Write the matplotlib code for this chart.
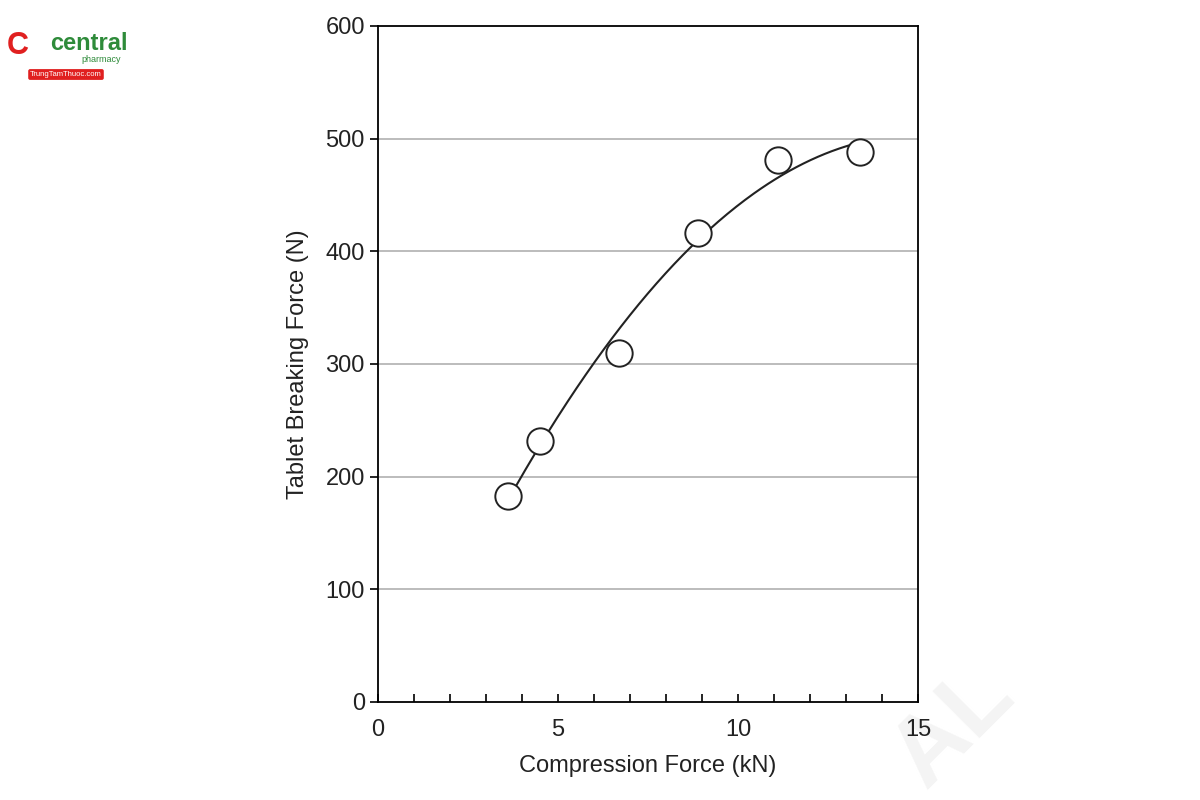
import numpy as np
import matplotlib.pyplot as plt
from matplotlib.ticker import MultipleLocator

plt.rcParams['font.family'] = ['Liberation Sans', 'DejaVu Sans']

compression = [3.6, 4.5, 6.7, 8.9, 11.1, 13.4]
breaking = [183, 232, 310, 416, 481, 488]

fig = plt.figure(figsize=(12, 8), dpi=100)
ax = fig.add_axes([0.315, 0.1225, 0.45, 0.845])
for y in range(100, 600, 100):
    ax.axhline(y, color='#b0b0b0', lw=1.2, zorder=0)
coef = np.polyfit(compression, breaking, 2)
xs = np.linspace(3.5, 13.3, 200)
ax.plot(xs, np.polyval(coef, xs), color='#222222', lw=1.5, zorder=2)
ax.scatter(compression, breaking, s=360, facecolors='white', edgecolors='#222222', linewidths=1.4, zorder=3)
ax.set_xlim(0, 15)
ax.set_ylim(0, 600)
ax.set_xticks([0, 5, 10, 15])
ax.xaxis.set_minor_locator(MultipleLocator(1))
ax.set_yticks(range(0, 700, 100))
ax.tick_params(axis='x', which='both', direction='in', length=6, labelsize=17, pad=12, width=1.2, labelcolor='#222222')
ax.tick_params(axis='y', direction='out', length=6, labelsize=17, width=1.2, labelcolor='#222222')
for s in ax.spines.values():
    s.set_linewidth(1.3)
ax.set_xlabel('Compression Force (kN)', fontsize=17, color='#222222', labelpad=10)
ax.set_ylabel('Tablet Breaking Force (N)', fontsize=17, color='#222222', labelpad=12)

fig.text(0.042, 0.937, 'central', fontsize=17, color='#2e8b3a', fontweight='bold')
fig.text(0.068, 0.922, 'pharmacy', fontsize=6.5, color='#2e8b3a')
fig.text(0.055, 0.905, 'TrungTamThuoc.com', fontsize=5.5, color='white', ha='center',
         bbox=dict(boxstyle='round,pad=0.25', fc='#e02020', ec='none'))
fig.text(0.006, 0.933, 'C', fontsize=22, color='#e02020', fontweight='bold')
fig.text(0.73, 0.02, 'AL', fontsize=70, color='#f4f4f4', rotation=45, fontweight='bold', zorder=-1)
fig.savefig('out.png')
